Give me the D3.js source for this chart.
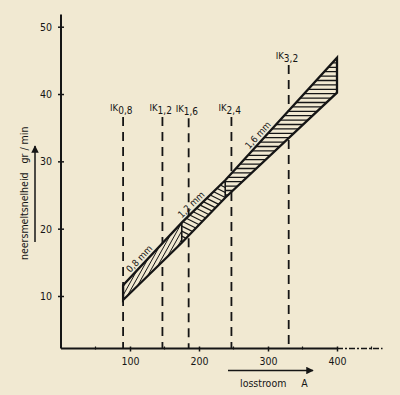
<!DOCTYPE html>
<html>
<head>
<meta charset="utf-8">
<script src="https://cdn.jsdelivr.net/npm/d3@7"></script>
<style>
  body { margin: 0; background: #f1e9d2; }
  svg { display: block; }
  text { font-family: "DejaVu Sans Condensed", "DejaVu Sans", sans-serif; fill: #151515; }
</style>
</head>
<body>
<svg class="chart"></svg>
<script>
// values
var xTicks = [100, 200, 300, 400];
var xMinor = [50, 150, 250, 350, 450];
var yTicks = [10, 20, 30, 40, 50];

// welding current limits per electrode (IK) in A
var ikCurrent = [90, 147, 185, 247, 330];
var ikSub = ["0,8", "1,2", "1,6", "2,4", "3,2"];
var ikTop = [36.6, 36.6, 36.4, 36.6, 44.3];

// band: melt rate range, at segment boundaries
var bandX = [90, 175, 238, 400];
var bandLow = [9.4, 17.9, 24.6, 40.2];
var bandHigh = [11.6, 20.9, 27.2, 45.4];
var wireLabels = ["0,8 mm", "1,2 mm", "1,6 mm"];
var wireLabelAt = [120, 195, 292];

function show() {
    'use strict';

    var W = 400, H = 395;
    var bg = "#f1e9d2";
    var svg = d3.select(".chart").attr("width", W).attr("height", H);
    svg.append("rect").attr("width", W).attr("height", H).attr("fill", bg);

    var x = d3.scaleLinear().domain([0, 400]).range([61, 337]);
    var y = d3.scaleLinear().domain([10, 50]).range([296, 26.7]);
    var yBase = 2.2, yTopVal = 51.8, xEnd = 466;
    var ink = "#151515";

    var chart = svg.append("g");

    // y axis
    var yAxis = chart.append("g")
        .attr("transform", "translate(" + x(0) + ",0)")
        .call(d3.axisLeft(y).tickValues(yTicks).tickSize(3).tickPadding(6));
    yAxis.select(".domain").remove();
    yAxis.selectAll(".tick line").attr("x2", 3).attr("x1", -3).attr("stroke", ink).attr("stroke-width", 1.5);
    yAxis.selectAll("text").attr("font-size", 10.5).attr("font-family", "DejaVu Sans Condensed").attr("fill", ink);
    chart.append("line")
        .attr("x1", x(0)).attr("x2", x(0))
        .attr("y1", y(yBase)).attr("y2", y(yTopVal))
        .attr("stroke", ink).attr("stroke-width", 2);

    // x axis
    var xAxis = chart.append("g")
        .attr("transform", "translate(0," + y(yBase) + ")")
        .call(d3.axisBottom(x).tickValues(xTicks).tickSize(3).tickPadding(6));
    xAxis.select(".domain").remove();
    xAxis.selectAll(".tick line").attr("y1", -2).attr("y2", 3).attr("stroke", ink).attr("stroke-width", 1.5);
    xAxis.selectAll("text").attr("font-size", 10.5).attr("font-family", "DejaVu Sans Condensed").attr("fill", ink);
    chart.selectAll(".minor").data(xMinor).enter().append("line")
        .attr("x1", function (d) { return x(d); }).attr("x2", function (d) { return x(d); })
        .attr("y1", y(yBase) - 2).attr("y2", y(yBase) + 1)
        .attr("stroke", ink).attr("stroke-width", 1.2);
    chart.append("line")
        .attr("x1", x(0)).attr("x2", x(400))
        .attr("y1", y(yBase)).attr("y2", y(yBase))
        .attr("stroke", ink).attr("stroke-width", 2);
    chart.append("line")
        .attr("x1", x(400)).attr("x2", x(xEnd))
        .attr("y1", y(yBase)).attr("y2", y(yBase))
        .attr("stroke", ink).attr("stroke-width", 1.6)
        .attr("stroke-dasharray", "6,2,2,2");

    // dashed IK lines
    chart.selectAll(".ik").data(ikCurrent).enter().append("line")
        .attr("x1", function (d) { return x(d); }).attr("x2", function (d) { return x(d); })
        .attr("y1", function (d, i) { return y(ikTop[i]); })
        .attr("y2", y(yBase))
        .attr("stroke", ink).attr("stroke-width", 1.8)
        .attr("stroke-dasharray", "9,6");

    var ikText = chart.selectAll(".ikt").data(ikCurrent).enter().append("text")
        .attr("x", function (d) { return x(d) - 13; })
        .attr("y", function (d, i) { return y(ikTop[i]) - 6; })
        .attr("font-size", 9.5);
    ikText.append("tspan").text("IK");
    ikText.append("tspan").attr("dy", 3).attr("font-size", 10)
        .text(function (d, i) { return ikSub[i]; });

    // band segments with hatching
    var defs = svg.append("defs");
    function pt(xv, yv) { return [x(xv), y(yv)]; }

    var outline = bandX.map(function (d, i) { return pt(d, bandLow[i]); })
        .concat(bandX.slice().reverse().map(function (d, i) { return pt(d, bandHigh[bandX.length - 1 - i]); }));
    chart.append("polygon")
        .attr("points", outline.join(" "))
        .attr("fill", bg).attr("stroke", "none");

    var hatch = [
        { dx: 1, dy: -1.8, gap: 4, w: 1 },
        { dx: 1, dy: 0.5, gap: 4.5, w: 1.2 },
        { dx: 1, dy: 0, gap: 4.4, w: 1.3 }
    ];
    for (var s = 0; s < 3; s++) {
        var poly = [
            pt(bandX[s], bandLow[s]), pt(bandX[s + 1], bandLow[s + 1]),
            pt(bandX[s + 1], bandHigh[s + 1]), pt(bandX[s], bandHigh[s])
        ];
        defs.append("clipPath").attr("id", "seg" + s)
            .append("polygon").attr("points", poly.join(" "));
        var xs = poly.map(function (p) { return p[0]; });
        var ys = poly.map(function (p) { return p[1]; });
        var x0 = d3.min(xs), x1 = d3.max(xs), y0 = d3.min(ys), y1 = d3.max(ys);
        var g = chart.append("g").attr("clip-path", "url(#seg" + s + ")");
        var h = hatch[s];
        var len = Math.sqrt(h.dx * h.dx + h.dy * h.dy);
        var ux = h.dx / len, uy = h.dy / len;
        var nx = -uy, ny = ux;
        var cx = (x0 + x1) / 2, cy = (y0 + y1) / 2;
        var R = Math.sqrt((x1 - x0) * (x1 - x0) + (y1 - y0) * (y1 - y0));
        for (var k = -R; k <= R; k += h.gap) {
            g.append("line")
                .attr("x1", cx + nx * k - ux * R).attr("y1", cy + ny * k - uy * R)
                .attr("x2", cx + nx * k + ux * R).attr("y2", cy + ny * k + uy * R)
                .attr("stroke", ink).attr("stroke-width", h.w);
        }
        if (s > 0) {
            chart.append("line")
                .attr("x1", x(bandX[s])).attr("x2", x(bandX[s]))
                .attr("y1", y(bandLow[s])).attr("y2", y(bandHigh[s]))
                .attr("stroke", ink).attr("stroke-width", 1.6);
        }
    }

    chart.append("polygon")
        .attr("points", outline.join(" "))
        .attr("fill", "none").attr("stroke", ink).attr("stroke-width", 2.3)
        .attr("stroke-linejoin", "miter");

    // wire diameter labels along upper edge
    var hiAt = d3.scaleLinear().domain(bandX).range(bandHigh);
    wireLabels.forEach(function (lab, i) {
        var xv = wireLabelAt[i];
        var px = x(xv), py = y(hiAt(xv));
        var ang = Math.atan2(y(hiAt(xv + 10)) - py, x(xv + 10) - px) * 180 / Math.PI;
        chart.append("text")
            .attr("transform", "translate(" + px + "," + py + ") rotate(" + ang + ") translate(0,-3)")
            .attr("text-anchor", "middle")
            .attr("font-size", 9.5)
            .text(lab);
    });

    // axis titles with arrows
    svg.append("defs").append("marker")
        .attr("id", "arr").attr("viewBox", "0 0 10 10")
        .attr("refX", 9).attr("refY", 5)
        .attr("markerWidth", 7).attr("markerHeight", 5).attr("orient", "auto")
        .append("path").attr("d", "M0,0L10,5L0,10z").attr("fill", ink);

    chart.append("line")
        .attr("x1", 35).attr("x2", 35).attr("y1", 242).attr("y2", 146)
        .attr("stroke", ink).attr("stroke-width", 1.5).attr("marker-end", "url(#arr)");
    chart.append("text")
        .attr("transform", "translate(28,260) rotate(-90)")
        .attr("font-size", 10.5)
        .attr("xml:space", "preserve")
        .text("neersmeltsnelheid   gr / min");

    chart.append("line")
        .attr("x1", 228).attr("x2", 313).attr("y1", 370.5).attr("y2", 370.5)
        .attr("stroke", ink).attr("stroke-width", 1.5).attr("marker-end", "url(#arr)");
    chart.append("text")
        .attr("x", 240).attr("y", 387)
        .attr("font-size", 10.5)
        .attr("xml:space", "preserve")
        .text("losstroom     A");
}
show();
</script>
</body>
</html>
